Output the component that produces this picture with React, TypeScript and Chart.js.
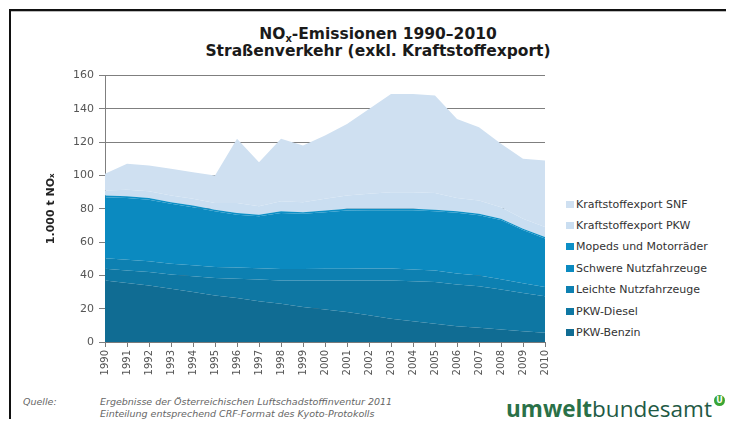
import React, { useEffect, useRef } from "react";
import { Chart, registerables } from "chart.js";

Chart.register(...registerables);

const years = ["1990","1991","1992","1993","1994","1995","1996","1997","1998","1999","2000","2001","2002","2003","2004","2005","2006","2007","2008","2009","2010"];

const pkwBenzin = [37, 35.5, 34, 32, 30, 28, 26.5, 24.5, 23, 21, 19.5, 18, 16, 14, 12.5, 11, 9.5, 8.5, 7.5, 6.5, 5.5];
const pkwDiesel = [7, 7.5, 8, 8.5, 9.5, 10.5, 11.5, 13, 14, 16, 17.5, 19, 21, 23, 24, 25, 25, 25, 24, 23, 22];
const leichteNfz = [6.3, 6.4, 6.5, 6.5, 6.6, 6.6, 6.7, 6.8, 6.8, 6.9, 7.0, 7.0, 7.1, 7.1, 7.0, 6.9, 6.7, 6.5, 6.2, 5.8, 5.5];
const schwereNfz = [36.7, 37.1, 37.0, 36.0, 34.9, 33.4, 31.8, 31.2, 33.7, 33.1, 34.0, 35.0, 35.0, 35.0, 35.6, 35.7, 36.4, 36.2, 35.5, 31.9, 29.2];
const mopeds = [1.0, 1.0, 1.0, 1.0, 1.0, 1.0, 1.0, 1.0, 1.0, 1.0, 1.0, 1.0, 0.9, 0.9, 0.9, 0.9, 0.9, 0.8, 0.8, 0.8, 0.8];
const exportPkw = [3, 4, 4, 4, 4, 4, 6, 5, 6, 6, 7, 8, 9, 10, 10, 10, 8, 8, 7, 6, 6];
const exportSnf = [10, 15.5, 15.5, 16, 16, 16.5, 38.5, 26.5, 37.5, 34, 38, 43, 51, 59, 59, 58.5, 47.5, 44, 38, 36, 40];

const seriesNames = ["PKW-Benzin", "PKW-Diesel", "Leichte Nutzfahrzeuge", "Schwere Nutzfahrzeuge", "Mopeds und Motorräder", "Kraftstoffexport PKW", "Kraftstoffexport SNF"];
const seriesValues = [pkwBenzin, pkwDiesel, leichteNfz, schwereNfz, mopeds, exportPkw, exportSnf];
const seriesColors = ["#106c93", "#0e77a3", "#0d80b1", "#0b8ac0", "#0d8fc6", "#cadef1", "#cfe0f1"];

const Y_MAX = 160;
const Y_STEP = 20;

export default function App() {
  const canvasRef = useRef<HTMLCanvasElement | null>(null);

  useEffect(() => {
    const canvas = canvasRef.current;
    if (!canvas) return;
    const chart = new Chart(canvas, {
      type: "line",
      data: {
        labels: years,
        datasets: seriesValues.map((vals, i) => ({
          label: seriesNames[i],
          data: vals,
          backgroundColor: seriesColors[i],
          borderColor: seriesColors[i],
          borderWidth: 0,
          pointRadius: 0,
          tension: 0,
          fill: i === 0 ? "origin" : "-1",
        })),
      },
      options: {
        responsive: false,
        maintainAspectRatio: false,
        animation: false,
        layout: { padding: { top: 10, right: 11, left: 0, bottom: 0 } },
        plugins: {
          legend: { display: false },
          tooltip: { enabled: false },
          title: { display: false },
        },
        scales: {
          x: {
            grid: { display: true, drawOnChartArea: false, drawTicks: true, tickLength: 5, color: "#7a7a7a" },
            border: { display: true, color: "#7a7a7a" },
            ticks: {
              minRotation: 90,
              maxRotation: 90,
              autoSkip: false,
              padding: 3,
              color: "#555",
              font: { family: "DejaVu Sans", size: 10 },
            },
            afterFit: (s: any) => { s.height = 50; },
          },
          y: {
            stacked: true,
            min: 0,
            max: Y_MAX,
            ticks: { stepSize: Y_STEP, padding: 5, color: "#555", font: { family: "DejaVu Sans", size: 11 } },
            grid: { color: "#7f7f7f", tickLength: 6 },
            border: { display: true, color: "#7f7f7f" },
            title: {
              display: true,
              text: "1.000 t NOₓ",
              color: "#222",
              font: { family: "DejaVu Sans", size: 11, weight: "bold" },
              padding: { top: 35, bottom: 0 },
            },
            afterFit: (s: any) => { s.width = 95; },
          },
        },
      },
    });
    return () => chart.destroy();
  }, []);

  const legendOrder = [6, 5, 4, 3, 2, 1, 0];

  return (
    <div style={{ position: "relative", width: 726, height: 411, overflow: "hidden", fontFamily: "DejaVu Sans" }}>
      <div style={{ position: "absolute", left: 1, top: 1, width: 725, height: 2, background: "#111" }} />
      <div style={{ position: "absolute", left: 1, top: 3, width: 725, height: 1, background: "#bbb" }} />
      <div style={{ position: "absolute", left: 1, top: 1, width: 2, height: 410, background: "#111" }} />

      <div style={{ position: "absolute", left: 120, top: 18, width: 500, textAlign: "center", fontWeight: "bold", fontSize: 15.5, lineHeight: "17px", color: "#1a1a1a" }}>
        <div>NO<sub style={{ fontSize: 10, verticalAlign: -3, lineHeight: 0 }}>x</sub>-Emissionen 1990–2010</div>
        <div>Straßenverkehr (exkl. Kraftstoffexport)</div>
      </div>

      <canvas ref={canvasRef} width={550} height={328} style={{ position: "absolute", left: 2, top: 56, width: 550, height: 328 }} />

      {legendOrder.map((idx, k) => (
        <div key={idx} style={{ position: "absolute", left: 558, top: 189 + k * 21.4, height: 14, display: "flex", alignItems: "center", fontSize: 11, color: "#333", whiteSpace: "nowrap" }}>
          <span style={{ display: "inline-block", width: 8, height: 7, background: seriesColors[idx], marginRight: 2 }} />
          <span>{seriesNames[idx]}</span>
        </div>
      ))}

      <div style={{ position: "absolute", left: 15, top: 388, fontStyle: "italic", fontSize: 9.5, color: "#666" }}>Quelle:</div>
      <div style={{ position: "absolute", left: 92, top: 388, fontStyle: "italic", fontSize: 9.5, lineHeight: "12px", color: "#666" }}>
        <div>Ergebnisse der Österreichischen Luftschadstoffinventur 2011</div>
        <div>Einteilung entsprechend CRF-Format des Kyoto-Protokolls</div>
      </div>

      <div style={{ position: "absolute", left: 498, top: 387, fontFamily: "Open Sans", fontSize: 22.5, lineHeight: "28px", color: "#1f5a45", whiteSpace: "nowrap" }}>
        <span style={{ fontWeight: 700, color: "#2a7148" }}>umwelt</span><span>bundesamt</span>
      </div>
      <div style={{ position: "absolute", left: 706, top: 387, width: 11, height: 11, borderRadius: 6, background: "#3aa535", color: "#fff", fontSize: 8, fontWeight: "bold", lineHeight: "11px", textAlign: "center", fontFamily: "DejaVu Sans" }}>U</div>
    </div>
  );
}
